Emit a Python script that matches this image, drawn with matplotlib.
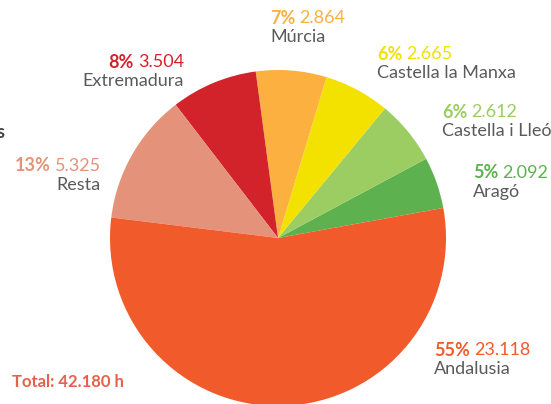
import matplotlib
matplotlib.use("Agg")
import matplotlib.pyplot as plt

regions = ["Aragó", "Castella i Lleó", "Castella la Manxa", "Múrcia",
           "Extremadura", "Resta", "Andalusia"]
hours = [2092, 2612, 2665, 2864, 3504, 5325, 23118]
pct_labels = ["5%", "6%", "6%", "7%", "8%", "13%", "55%"]
num_labels = ["2.092", "2.612", "2.665", "2.864", "3.504", "5.325", "23.118"]
colors = ["#5DB24F", "#9BCD62", "#F3E100", "#FBB040", "#D2232A", "#E4937A", "#F15A2B"]
total_label = "Total: 42.180 h"

# label anchor positions in figure pixels (x, y from top) and alignment
label_pos = [(473, 173, "left"), (442, 112, "left"), (377, 54, "left"),
             (270, 18, "left"), (184, 62, "right"), (101, 166, "right"),
             (434, 350, "left")]

W, H = 551, 404
fig = plt.figure(figsize=(W / 100, H / 100), dpi=100)
plt.rcParams['font.family'] = ['Lato', 'DejaVu Sans']

cx, cy, r = 278, 238, 168
ax = fig.add_axes([(cx - r) / W, (H - cy - r) / H, 2 * r / W, 2 * r / H])
ax.pie(hours, colors=colors, startangle=10.3, counterclock=True, radius=1,
       wedgeprops=dict(linewidth=0))
ax.set_xlim(-1, 1)
ax.set_ylim(-1, 1)
ax.set_aspect("equal")
ax.axis("off")

fs = 13
grey = "#5A5A5A"
for name, p, n, c, (x, y, ha) in zip(regions, pct_labels, num_labels, colors, label_pos):
    fx, fy = x / W, 1 - y / H
    if ha == "left":
        t1 = fig.text(fx, fy, p, color=c, fontsize=fs, fontweight="bold",
                      ha="left", va="center")
        ax.annotate(n, xy=(1, 0.5), xycoords=t1, xytext=(3, 0),
                    textcoords="offset points", color=c, fontsize=fs,
                    ha="left", va="center", annotation_clip=False)
    else:
        t2 = fig.text(fx, fy, n, color=c, fontsize=fs, ha="right", va="center")
        ax.annotate(p, xy=(0, 0.5), xycoords=t2, xytext=(-3, 0),
                    textcoords="offset points", color=c, fontsize=fs,
                    fontweight="bold", ha="right", va="center",
                    annotation_clip=False)
    fig.text(fx, fy - 19 / H, name, color=grey, fontsize=fs, ha=ha, va="center")

fig.text(12 / W, 1 - 382 / H, total_label, color="#E8604C", fontsize=12,
         fontweight="bold", ha="left", va="center")
fig.text(5 / W, 1 - 133 / H, "s", color="#444444", fontsize=13,
         fontweight="bold", ha="right", va="center")

fig.savefig("out.png", dpi=100)
